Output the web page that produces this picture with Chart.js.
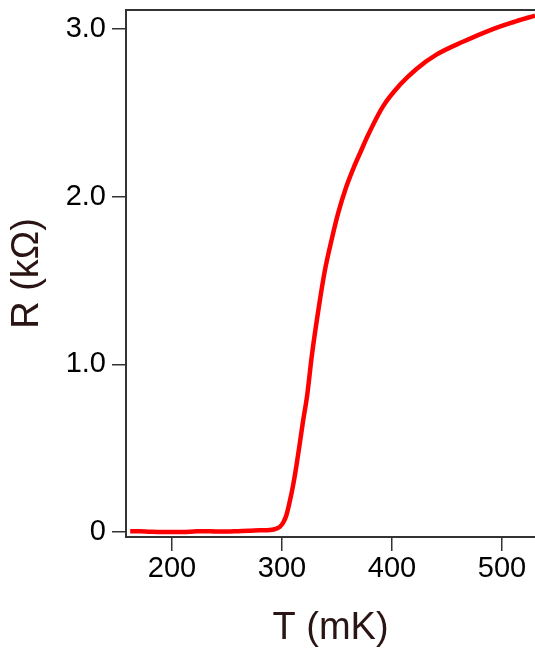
<!DOCTYPE html>
<html>
<head>
<meta charset="utf-8">
<script src="https://cdn.jsdelivr.net/npm/chart.js@4"></script>
<style>
  html, body { margin: 0; padding: 0; background: #fff; }
  #wrap { width: 535px; height: 648px; }
</style>
</head>
<body>
<div id="wrap"><canvas id="grafico" width="535" height="648"></canvas></div>
<script>
// dados
const temperatura = [162, 170, 180, 190, 200, 210, 220, 230, 240, 250, 260, 270, 280, 289, 295,
  298, 301, 304, 307, 310, 313, 316, 319, 323, 327, 333, 339, 345, 351, 358, 365, 372, 377,
  392, 407, 422, 440, 465, 490, 510, 530];
const resistencia = [0.005, 0.005, 0.002, 0.0, 0.0, 0.0, 0.003, 0.005, 0.003, 0.003, 0.005, 0.007, 0.010, 0.012, 0.02,
  0.03, 0.055, 0.10, 0.18, 0.275, 0.39, 0.52, 0.655, 0.82, 1.045, 1.32, 1.56, 1.74, 1.90, 2.05, 2.17, 2.275, 2.35,
  2.54, 2.665, 2.76, 2.845, 2.925, 2.995, 3.04, 3.08];
const ticksX = [200, 300, 400, 500];
const ticksY = [0, 1, 2, 3];

const fonte = '"Liberation Sans", Arial, sans-serif';

// linha de cima do quadro
const bordaTopo = {
  id: 'bordaTopo',
  afterDraw(chart) {
    const { ctx, chartArea } = chart;
    ctx.save();
    ctx.strokeStyle = '#333';
    ctx.lineWidth = 2;
    ctx.beginPath();
    ctx.moveTo(chartArea.left - 1, chartArea.top);
    ctx.lineTo(chartArea.right, chartArea.top);
    ctx.stroke();
    ctx.restore();
  }
};

const ctx = document.getElementById('grafico').getContext('2d');
new Chart(ctx, {
  type: 'line',
  data: {
    datasets: [{
      data: temperatura.map((t, i) => ({ x: t, y: resistencia[i] })),
      borderColor: '#ff0000',
      borderWidth: 4.5,
      pointRadius: 0,
      cubicInterpolationMode: 'monotone',
      fill: false
    }]
  },
  options: {
    responsive: false,
    animation: false,
    layout: { padding: { top: 10, right: 0, left: 0, bottom: 0 } },
    plugins: { legend: { display: false }, tooltip: { enabled: false } },
    scales: {
      x: {
        type: 'linear',
        min: 158.2,
        max: 530,
        afterFit: s => { s.height = 111; s.paddingLeft = 0; s.paddingRight = 0; },
        afterBuildTicks: s => { s.ticks = ticksX.map(v => ({ value: v })); },
        ticks: { color: '#000', padding: 1, font: { family: fonte, size: 29 } },
        grid: { drawOnChartArea: false, drawTicks: true, tickLength: 14, color: '#333', lineWidth: 1.5 },
        border: { color: '#333', width: 2 },
        title: {
          display: true, text: 'T (mK)', color: '#2a1414',
          font: { family: fonte, size: 38, lineHeight: 1 }, padding: { top: 0, bottom: 0 }
        }
      },
      y: {
        type: 'linear',
        min: -0.03,
        max: 3.113,
        afterFit: s => { s.width = 126; s.paddingTop = 0; s.paddingBottom = 0; },
        afterBuildTicks: s => { s.ticks = ticksY.map(v => ({ value: v })); },
        ticks: {
          color: '#000', padding: 6, font: { family: fonte, size: 29 },
          callback: v => v === 0 ? '0' : v.toFixed(1)
        },
        grid: { drawOnChartArea: false, drawTicks: true, tickLength: 14, color: '#333', lineWidth: 1.5 },
        border: { color: '#333', width: 2 },
        title: {
          display: true, text: 'R (kΩ)', color: '#2a1414',
          font: { family: fonte, size: 38, lineHeight: 1 }, padding: { top: 9, bottom: 0 }
        }
      }
    }
  },
  plugins: [bordaTopo]
});
</script>
</body>
</html>
